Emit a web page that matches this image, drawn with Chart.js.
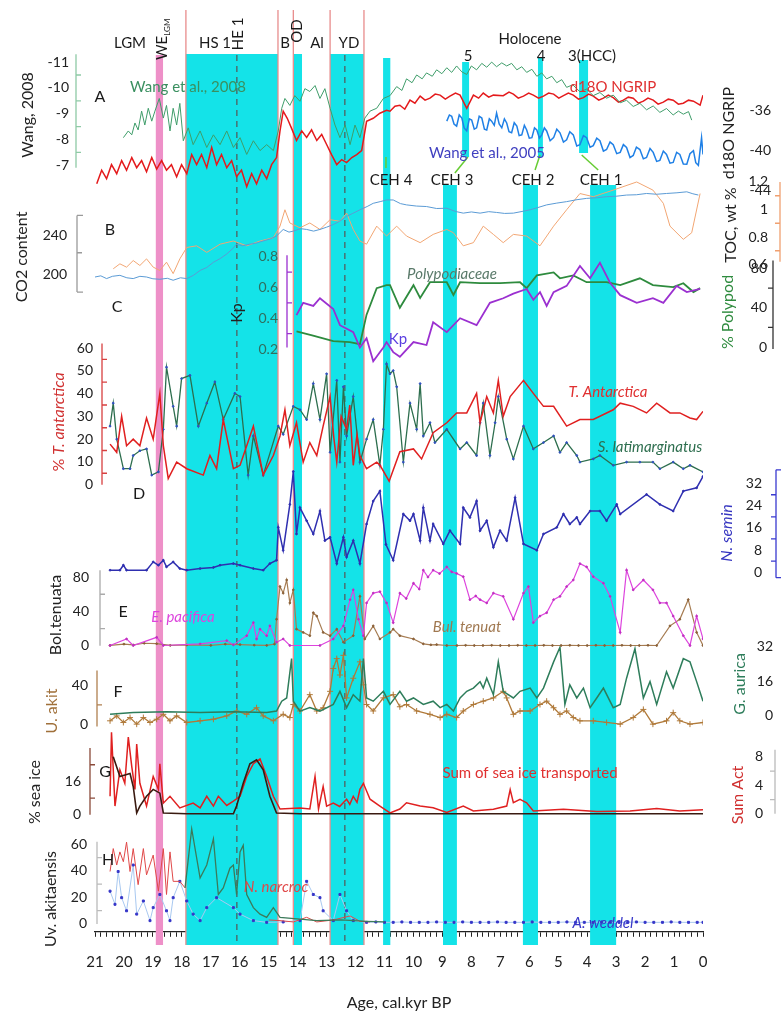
<!DOCTYPE html>
<html>
<head>
<meta charset="utf-8">
<title>Deglacial proxy records, 21-0 kyr BP</title>
<script src="https://cdn.jsdelivr.net/npm/chart.js@4.4.1/dist/chart.umd.min.js"></script>
<style>
  html, body { margin: 0; padding: 0; background: #fff; }
</style>
</head>
<body>
<canvas id="proxyChart" width="782" height="1014"></canvas>
<script>
// ---- records: [age kyr BP, value] ----
const wang2008 = [[20.02,-8.07],[19.85,-8.33],[19.73,-8.18],[19.62,-8.64],[19.51,-8.37],[19.39,-9.10],[19.28,-8.56],[19.16,-9.21],[19.04,-8.71],[18.93,-9.10],[18.78,-9.59],[18.64,-8.83],[18.53,-9.32],[18.41,-8.33],[18.30,-9.21],[18.18,-8.56],[18.07,-9.40],[17.95,-7.95],[17.78,-8.45],[17.61,-7.80],[17.37,-8.33],[17.14,-7.69],[16.91,-8.18],[16.68,-7.80],[16.45,-8.33],[16.22,-7.69],[15.99,-8.07],[15.76,-7.42],[15.53,-7.95],[15.30,-7.57],[15.07,-7.80],[14.84,-7.57],[14.67,-8.33],[14.55,-9.21],[14.44,-9.59],[14.27,-9.32],[14.10,-9.70],[13.92,-9.48],[13.75,-9.97],[13.58,-9.86],[13.40,-10.09],[13.23,-9.59],[13.06,-9.97],[12.88,-9.21],[12.71,-8.56],[12.54,-8.07],[12.36,-8.56],[12.19,-7.80],[12.02,-8.56],[11.85,-8.07],[11.68,-8.83],[11.50,-9.10],[11.27,-9.21],[11.04,-9.59],[10.81,-9.70],[10.58,-10.05],[10.40,-9.90],[10.24,-10.35],[10.05,-10.20],[9.89,-10.50],[9.70,-10.35],[9.55,-10.58],[9.35,-10.45],[9.20,-10.70],[9.02,-10.55],[8.85,-10.78],[8.68,-10.60],[8.51,-10.85],[8.33,-10.62],[8.16,-10.52],[8.00,-10.85],[7.82,-10.70],[7.64,-10.95],[7.47,-10.80],[7.30,-11.00],[7.13,-10.82],[6.95,-10.97],[6.78,-10.85],[6.61,-10.95],[6.43,-10.70],[6.26,-10.82],[6.09,-10.60],[5.91,-10.72],[5.74,-10.45],[5.57,-10.58],[5.40,-10.35],[5.22,-10.45],[5.05,-10.20],[4.88,-10.32],[4.71,-10.02],[4.50,-10.12],[4.25,-9.85],[4.02,-9.95],[3.79,-9.70],[3.56,-9.82],[3.33,-9.60],[3.10,-9.72],[2.86,-9.42],[2.64,-9.52],[2.41,-9.28],[2.18,-9.40],[1.95,-9.15],[1.72,-9.30],[1.49,-9.05],[1.26,-9.20],[1.03,-8.95],[0.85,-9.10],[0.68,-8.98],[0.50,-9.08],[0.39,-8.75]];
const wang2005 = [[8.85,-8.71],[8.76,-8.95],[8.68,-8.90],[8.60,-8.60],[8.51,-8.52],[8.42,-8.95],[8.33,-8.83],[8.25,-8.45],[8.16,-8.33],[8.07,-8.80],[7.99,-8.75],[7.90,-8.40],[7.82,-8.45],[7.73,-8.90],[7.64,-8.83],[7.55,-8.40],[7.47,-8.37],[7.38,-8.80],[7.30,-8.71],[7.21,-8.55],[7.13,-9.02],[7.04,-8.60],[6.95,-8.45],[6.86,-8.80],[6.78,-8.64],[6.70,-8.30],[6.61,-8.26],[6.52,-8.65],[6.43,-8.52],[6.35,-8.15],[6.26,-8.18],[6.17,-8.55],[6.09,-8.37],[6.00,-8.05],[5.91,-8.07],[5.82,-8.45],[5.74,-8.37],[5.65,-8.05],[5.57,-8.18],[5.48,-8.45],[5.40,-8.33],[5.28,-7.95],[5.16,-8.07],[5.05,-8.40],[4.94,-8.26],[4.82,-7.90],[4.71,-7.99],[4.60,-8.30],[4.48,-8.18],[4.36,-7.75],[4.25,-7.80],[4.13,-8.15],[4.02,-8.07],[3.90,-7.70],[3.79,-7.76],[3.67,-8.05],[3.56,-7.95],[3.44,-7.55],[3.33,-7.61],[3.21,-7.90],[3.10,-7.80],[2.98,-7.45],[2.86,-7.50],[2.75,-7.80],[2.64,-7.69],[2.52,-7.30],[2.41,-7.38],[2.30,-7.70],[2.18,-7.61],[2.06,-7.25],[1.95,-7.30],[1.83,-7.65],[1.72,-7.50],[1.60,-7.15],[1.49,-7.19],[1.37,-7.55],[1.26,-7.42],[1.14,-7.08],[1.03,-7.11],[0.91,-7.50],[0.80,-7.42],[0.68,-7.05],[0.56,-7.04],[0.45,-7.45],[0.33,-7.57],[0.25,-7.10],[0.16,-7.00],[0.05,-8.07],[0.00,-7.42]];
const ngrip = [[20.94,-43.3],[20.77,-41.95],[20.60,-42.8],[20.43,-41.4],[20.25,-42.3],[20.08,-41.0],[19.91,-41.95],[19.73,-40.7],[19.56,-41.7],[19.39,-41.0],[19.22,-42.1],[19.04,-40.7],[18.87,-41.85],[18.70,-41.0],[18.53,-41.95],[18.36,-41.4],[18.18,-42.6],[18.01,-41.4],[17.83,-42.3],[17.66,-40.4],[17.49,-41.4],[17.32,-40.4],[17.14,-41.7],[16.97,-39.7],[16.80,-41.4],[16.63,-40.4],[16.45,-41.7],[16.28,-41.0],[16.11,-42.6],[15.94,-41.95],[15.76,-43.6],[15.59,-42.3],[15.42,-43.3],[15.24,-41.95],[15.07,-42.8],[14.90,-41.4],[14.73,-40.7],[14.61,-38.05],[14.50,-36.1],[14.36,-36.8],[14.21,-37.8],[14.04,-39.0],[13.86,-38.05],[13.69,-38.7],[13.52,-37.95],[13.34,-39.0],[13.17,-38.4],[13.00,-39.4],[12.83,-40.4],[12.65,-41.4],[12.48,-40.9],[12.31,-41.2],[12.13,-40.7],[11.96,-40.4],[11.79,-40.0],[11.62,-37.1],[11.39,-36.8],[11.16,-36.3],[10.93,-36.0],[10.81,-36.1],[10.64,-35.6],[10.47,-35.5],[10.30,-35.9],[10.12,-35.0],[9.95,-35.3],[9.77,-34.6],[9.60,-35.0],[9.43,-34.8],[9.25,-34.4],[9.08,-34.5],[8.90,-34.9],[8.74,-34.6],[8.55,-34.3],[8.39,-34.5],[8.16,-35.8],[7.93,-34.5],[7.75,-34.8],[7.59,-34.3],[7.40,-34.7],[7.24,-34.5],[6.90,-34.55],[6.70,-34.2],[6.55,-34.4],[6.38,-34.8],[6.20,-34.6],[6.02,-34.3],[5.86,-34.5],[5.68,-34.8],[5.51,-34.6],[5.33,-34.3],[5.16,-34.4],[4.98,-34.8],[4.82,-34.55],[4.65,-34.3],[4.48,-34.5],[4.30,-34.9],[4.13,-34.75],[3.95,-34.4],[3.79,-34.6],[3.60,-35.0],[3.44,-34.8],[3.27,-34.5],[3.10,-34.75],[2.92,-35.2],[2.75,-35.0],[2.58,-34.7],[2.41,-34.8],[2.23,-35.3],[2.06,-35.1],[1.90,-34.8],[1.72,-35.0],[1.55,-35.4],[1.37,-35.2],[1.20,-34.9],[1.03,-35.0],[0.85,-35.4],[0.68,-35.3],[0.50,-35.0],[0.33,-35.1],[0.10,-35.5],[0.00,-34.5]];
const co2 = [[21.0,197.3],[20.8,198.5],[20.6,195.7],[20.4,198],[20.14,199],[19.9,196.5],[19.68,195.7],[19.45,198],[19.22,197.3],[19.0,195.5],[18.76,195],[18.5,196],[18.30,194],[18.05,196.5],[17.83,195.7],[17.6,199],[17.37,204],[17.14,207],[16.91,212.3],[16.68,216],[16.45,220.7],[16.25,226],[16.11,230.7],[15.9,229],[15.65,230.7],[15.4,232],[15.19,234],[14.95,236],[14.73,239],[14.50,245.7],[14.3,243],[14.15,244],[13.9,246.5],[13.69,245.7],[13.45,244],[13.23,245.7],[13.0,248],[12.77,250.7],[12.55,254],[12.31,259],[12.1,262],[11.85,265.7],[11.6,269],[11.39,272.3],[11.15,274],[10.93,275.7],[10.70,275.7],[10.45,272],[10.24,270.7],[9.9,269.5],[9.55,269],[9.2,267],[8.85,267.3],[8.55,264],[8.28,262.3],[8.0,263.5],[7.70,262.3],[7.4,263.8],[7.13,263],[6.85,262],[6.55,262.3],[6.25,264],[5.97,265.7],[5.7,268],[5.40,270.7],[5.05,272.5],[4.71,274],[4.35,276],[4.02,277.3],[3.65,278],[3.33,279],[3.0,279.5],[2.64,280.7],[2.3,281],[1.95,282.3],[1.6,281.5],[1.26,282.3],[0.9,283],[0.56,284],[0.35,282],[0.16,280.7]];
const toc = [[20.37,0.569],[20.14,0.605],[19.91,0.581],[19.68,0.629],[19.45,0.593],[19.22,0.641],[18.99,0.581],[18.76,0.557],[18.53,0.617],[18.30,0.534],[18.07,0.641],[17.83,0.724],[17.49,0.736],[17.14,0.688],[16.68,0.748],[16.22,0.771],[15.76,0.736],[15.30,0.771],[14.84,0.795],[14.61,0.879],[14.44,0.998],[14.27,0.902],[13.92,0.867],[13.58,0.902],[13.23,0.855],[12.88,0.926],[12.54,0.914],[12.31,0.974],[12.08,0.855],[11.85,0.771],[11.62,0.748],[11.27,0.879],[10.93,0.807],[10.58,0.879],[10.24,0.807],[9.77,0.759],[9.32,0.819],[8.85,0.855],[8.62,0.831],[8.28,0.736],[7.93,0.759],[7.59,0.879],[7.24,0.819],[6.90,0.759],[6.55,0.819],[6.09,0.807],[5.63,0.736],[5.16,0.879],[4.71,0.998],[4.25,1.116],[3.79,1.093],[3.10,1.141],[2.29,1.2],[1.73,1.141],[1.37,1.045],[1.14,0.879],[0.68,0.783],[0.39,0.831],[0.10,1.116]];
const kp = [[14.04,0.42],[13.81,0.50],[13.46,0.48],[13.23,0.53],[12.77,0.46],[12.54,0.355],[12.08,0.31],[11.85,0.21],[11.62,0.27],[11.39,0.12],[11.04,0.21],[10.93,0.245],[10.70,0.18],[10.47,0.15],[10.00,0.245],[9.55,0.226],[9.32,0.374],[8.85,0.31],[8.39,0.40],[7.82,0.355],[7.36,0.50],[6.90,0.53],[6.55,0.56],[6.09,0.59],[5.86,0.52],[5.63,0.57],[5.40,0.48],[5.16,0.57],[4.71,0.61],[4.25,0.74],[3.90,0.66],[3.56,0.76],[3.21,0.63],[2.86,0.55],[2.29,0.50],[1.73,0.53],[1.37,0.50],[0.91,0.61],[0.56,0.57],[0.10,0.59]];
const polypod = [[14.04,16],[13.5,12],[12.77,6],[12.2,5],[11.85,3],[11.62,33],[11.27,60],[10.93,63],[10.81,63],[10.47,40],[10.00,63],[9.77,50],[9.43,66],[8.85,66],[8.62,53],[8.39,66],[7.70,65],[7.01,65],[6.32,66],[6.09,60],[5.74,73],[5.16,76],[4.94,70],[4.48,73],[4.02,66],[3.33,66],[2.86,63],[2.18,70],[1.73,63],[1.03,61],[0.68,65],[0.33,56],[0.10,60]];
const tAntarctica = [[20.48,17.8],[20.25,14.2],[20.08,30.0],[19.91,17.1],[19.68,20.0],[19.45,17.1],[19.22,29.3],[18.99,20.0],[18.76,40.1],[18.64,17.1],[18.47,2.7],[18.18,9.9],[17.83,7.0],[17.26,4.2],[17.03,12.8],[16.80,7.0],[16.57,28.6],[16.22,7.0],[15.99,8.5],[15.76,17.1],[15.53,25.7],[15.19,4.2],[14.84,12.8],[14.61,21.4],[14.44,32.9],[14.27,17.1],[14.04,27.2],[13.81,9.9],[13.58,18.5],[13.34,12.8],[13.12,25.7],[12.88,38.7],[12.75,20.5],[12.65,9.9],[12.50,30.0],[12.31,24.3],[12.20,35.0],[12.08,8.5],[11.95,22.0],[11.85,12.8],[11.62,7.0],[11.27,9.9],[11.16,8.6],[10.84,1.5],[10.47,14.5],[10.00,15.7],[9.72,11.3],[9.32,22.8],[8.85,27.2],[8.51,31.5],[8.16,31.5],[7.82,40.1],[7.70,27.2],[7.47,38.7],[7.24,31.5],[7.07,45.8],[6.90,30.0],[6.66,38.7],[6.20,45.8],[5.86,40.1],[5.51,34.4],[5.16,34.4],[4.71,25.7],[4.25,28.6],[3.79,28.6],[3.10,32.9],[2.86,35.8],[2.41,34.4],[1.95,31.5],[1.60,35.8],[1.14,31.5],[0.80,31.5],[0.45,29.3],[0.22,28.6],[0.00,32.2]];
const sLatimarginatus = [[20.48,25.7],[20.37,35.8],[20.25,20.0],[20.02,7.0],[19.79,7.0],[19.68,12.8],[19.45,14.9],[19.22,15.7],[19.04,4.2],[18.81,5.6],[18.64,24.3],[18.53,51.6],[18.30,34.4],[18.18,25.7],[18.01,46.6],[17.72,48.0],[17.43,25.7],[17.14,35.8],[16.86,45.1],[16.57,28.6],[16.17,40.1],[15.99,38.7],[15.71,4.2],[15.53,21.4],[15.19,4.2],[14.67,25.7],[14.50,22.1],[14.15,34.4],[13.92,32.9],[13.69,28.6],[13.46,44.4],[13.23,28.6],[13.00,48.7],[12.88,14.2],[12.65,45.8],[12.54,9.9],[12.42,43.0],[12.31,21.4],[12.08,38.7],[11.85,9.9],[11.62,20.0],[11.39,28.6],[11.16,8.5],[11.04,24.3],[10.93,53.0],[10.81,48.7],[10.70,50.1],[10.58,43.0],[10.35,9.9],[10.12,35.8],[9.89,24.3],[9.77,44.4],[9.66,21.4],[9.43,27.2],[9.26,18.5],[8.85,24.3],[8.39,15.7],[8.16,18.5],[7.82,12.8],[7.70,27.2],[7.59,35.8],[7.36,12.8],[7.18,27.2],[7.07,38.7],[6.78,20.0],[6.55,11.3],[6.20,25.7],[5.86,15.7],[5.51,18.5],[5.16,21.4],[4.94,14.2],[4.71,18.5],[4.36,12.8],[4.25,9.9],[3.79,11.3],[3.56,12.8],[3.10,8.5],[2.64,9.9],[2.18,9.9],[1.73,9.9],[1.49,7.0],[1.03,9.9],[0.68,7.0],[0.45,8.5],[0.00,5.6]];
const nSemin = [[20.48,0.7],[20.14,0.7],[20.02,2.5],[19.91,0.7],[19.22,0.7],[18.99,3.7],[18.81,2.5],[18.64,4.3],[18.53,1.9],[18.30,3.7],[18.07,1.3],[17.83,0.7],[17.37,1.3],[16.91,1.7],[16.68,2.5],[16.22,3.1],[15.99,2.5],[15.53,1.3],[15.19,0.7],[14.96,3.1],[14.73,4.3],[14.67,16.2],[14.50,7.9],[14.27,24.5],[14.15,36.4],[14.04,13.8],[13.92,23.3],[13.69,18.6],[13.46,13.8],[13.23,22.1],[13.06,11.4],[12.88,12.6],[12.65,3.1],[12.42,12.6],[12.31,5.5],[12.08,11.4],[11.85,3.1],[11.62,17.4],[11.39,25.7],[11.16,29.3],[10.95,10.0],[10.70,4.3],[10.35,21.0],[10.12,18.6],[10.00,21.0],[9.77,11.4],[9.66,23.3],[9.43,11.4],[9.32,17.4],[8.97,10.2],[8.74,15.0],[8.39,10.2],[8.28,23.3],[8.05,19.8],[7.82,25.7],[7.70,15.0],[7.47,18.6],[7.24,9.0],[7.01,15.0],[6.78,11.4],[6.49,26.9],[6.20,10.2],[5.74,7.9],[5.51,13.8],[5.05,16.2],[4.82,21.0],[4.60,17.4],[4.36,19.8],[4.25,17.4],[3.90,22.1],[3.56,22.1],[3.33,18.6],[2.98,24.5],[2.86,21.0],[1.95,28.1],[1.49,24.5],[1.03,22.1],[0.68,29.3],[0.22,30.5],[0.00,34.6]];
const ePacifica = [[20.48,0.4],[19.91,8.0],[19.68,0.4],[18.87,9.9],[18.64,0.4],[17.37,2.3],[16.45,6.1],[16.22,1.1],[15.76,11.8],[15.53,27.0],[15.42,8.0],[15.30,19.4],[15.07,11.8],[14.96,23.2],[14.73,4.2],[14.50,8.0],[14.27,0.4],[13.23,0.4],[12.77,8.0],[12.42,23.2],[12.19,53.7],[12.08,65.1],[11.90,30.9],[11.73,11.8],[11.62,49.9],[11.39,61.3],[11.16,63.0],[10.93,49.9],[10.70,27.0],[10.47,61.3],[10.25,55.0],[10.00,72.8],[9.80,66.0],[9.66,88.0],[9.50,80.0],[9.32,88.0],[9.10,84.0],[8.85,91.8],[8.68,86.0],[8.51,84.2],[8.28,80.4],[8.05,53.7],[7.85,58.0],[7.70,53.7],[7.47,49.9],[7.24,61.3],[6.90,57.5],[6.55,30.9],[6.20,61.3],[6.03,68.9],[5.86,27.0],[5.63,34.6],[5.40,38.5],[5.16,53.7],[4.94,57.5],[4.71,68.9],[4.48,76.6],[4.25,95.6],[4.02,91.8],[3.79,80.4],[3.44,72.8],[3.21,57.5],[2.86,15.6],[2.64,88.0],[2.41,65.1],[2.06,76.6],[1.73,65.1],[1.49,49.9],[1.26,49.9],[1.03,34.6],[0.68,11.8],[0.45,0.4],[0.22,34.6],[0.00,8.0]];
const bulTenuata = [[20.48,0.5],[20.0,2.0],[19.68,1.0],[19.3,3.0],[18.87,2.5],[18.4,0.5],[17.83,1.0],[17.0,0.5],[16.5,2.0],[15.99,1.5],[15.5,0.8],[15.07,0.5],[14.80,2.0],[14.73,30.9],[14.61,68.9],[14.50,61.3],[14.38,76.6],[14.27,49.9],[14.15,65.1],[14.04,19.4],[13.81,15.6],[13.58,11.8],[13.46,38.5],[13.34,34.6],[13.12,15.6],[12.88,11.8],[12.65,19.4],[12.42,4.2],[12.08,11.8],[11.85,57.5],[11.68,8.0],[11.39,23.2],[11.16,8.0],[10.81,15.6],[10.70,19.4],[10.47,11.8],[10.00,8.0],[9.66,2.3],[9.4,1.2],[9.2,1.5],[8.85,0.4],[8.5,0.4],[8.2,0.6],[7.9,0.4],[7.6,0.4],[7.3,0.6],[7.0,0.4],[6.7,0.4],[6.4,0.6],[6.1,0.4],[5.8,0.4],[5.5,0.6],[5.2,0.4],[4.9,0.4],[4.6,0.6],[4.3,0.4],[4.0,0.4],[3.7,0.6],[3.4,0.4],[3.1,0.4],[2.8,0.6],[2.5,0.4],[2.2,0.4],[1.9,0.6],[1.60,0.4],[1.14,23.2],[0.80,30.9],[0.51,53.7],[0.22,15.6],[0.00,0.4]];
const gAurica = [[20.48,0.6],[19.68,1.4],[18.53,1.8],[17.37,1.4],[16.22,1.8],[15.07,1.4],[14.73,2.1],[14.55,6.7],[14.38,8.2],[14.21,26.5],[14.15,6.7],[13.92,2.1],[13.58,3.7],[13.23,2.1],[12.77,5.2],[12.54,11.3],[12.31,3.7],[12.08,9.7],[11.85,6.7],[11.73,26.5],[11.62,8.2],[11.39,6.7],[11.04,11.3],[10.81,5.2],[10.47,11.3],[10.24,6.7],[10.00,8.2],[9.66,5.2],[9.32,6.7],[9.08,3.7],[8.85,5.2],[8.62,2.1],[8.39,8.2],[8.16,11.3],[7.93,12.8],[7.70,15.8],[7.59,12.8],[7.47,17.4],[7.24,9.7],[7.07,25.0],[6.90,11.3],[6.55,8.2],[6.32,11.3],[5.97,12.8],[5.74,8.2],[5.51,12.8],[5.16,25.0],[4.94,31.8],[4.77,5.2],[4.60,14.3],[4.36,8.2],[4.13,12.8],[3.90,3.7],[3.67,8.2],[3.44,12.8],[3.10,3.7],[2.86,5.2],[2.64,17.4],[2.35,31.1],[2.06,8.2],[1.83,15.8],[1.60,5.2],[1.26,20.4],[1.03,12.8],[0.68,26.5],[0.45,25.0],[0.22,15.8],[0.00,6.7]];
const uAkit = [[20.48,3.7],[20.25,8.7],[20.02,2.0],[19.79,7.0],[19.56,0.3],[19.33,7.0],[19.10,2.0],[18.87,5.3],[18.64,10.3],[18.41,3.7],[18.18,8.7],[17.83,2.0],[17.37,3.7],[16.91,5.3],[16.45,8.7],[16.11,13.7],[15.76,10.3],[15.42,17.0],[15.19,8.7],[14.84,3.7],[14.50,10.3],[14.27,7.0],[14.15,20.3],[13.92,13.7],[13.58,30.3],[13.34,13.7],[13.12,17.0],[12.88,33.7],[12.77,57.0],[12.65,67.0],[12.54,50.3],[12.42,70.3],[12.31,27.0],[12.08,47.0],[11.85,63.7],[11.73,40.3],[11.62,20.3],[11.39,13.7],[11.04,27.0],[10.70,30.3],[10.47,18.0],[10.24,20.3],[9.89,13.7],[9.43,10.3],[9.08,7.0],[8.85,10.3],[8.51,7.0],[8.28,13.7],[7.93,20.3],[7.59,23.7],[7.24,27.0],[6.90,33.7],[6.78,27.0],[6.55,10.3],[6.32,13.7],[5.97,13.7],[5.63,20.3],[5.40,23.7],[5.16,17.0],[4.94,10.3],[4.71,13.7],[4.48,7.0],[4.25,3.7],[3.79,3.7],[3.33,2.0],[2.86,0.3],[2.41,7.0],[2.06,15.3],[1.73,0.3],[1.26,3.7],[1.03,12.0],[0.80,3.7],[0.45,0.3],[0.00,2.0]];
const seaIceSum = [[20.48,8.9],[20.43,39.5],[20.31,4.2],[20.14,21.6],[19.97,15.1],[19.85,37.2],[19.73,23.1],[19.62,12.2],[19.56,33.9],[19.45,15.1],[19.22,4.2],[18.99,18.4],[18.81,12.2],[18.76,24.5],[18.64,5.6],[18.41,8.9],[18.07,3.3],[17.61,5.6],[17.37,3.3],[17.14,8.9],[16.91,4.2],[16.74,8.9],[16.45,4.5],[16.22,6.6],[15.99,8.9],[15.76,18.4],[15.53,24.5],[15.30,26.8],[15.07,18.4],[14.84,8.9],[14.61,2.8],[13.92,3.3],[13.58,2.8],[13.40,18.4],[13.28,2.8],[13.12,13.6],[13.00,4.2],[12.77,5.6],[12.55,4.0],[12.31,7.5],[12.20,5.0],[12.08,8.9],[11.95,6.0],[11.85,12.2],[11.73,15.1],[11.50,7.5],[11.16,4.2],[10.81,0.9],[10.47,2.8],[10.24,5.8],[9.77,4.2],[9.32,3.4],[8.85,1.1],[8.28,4.2],[7.93,1.9],[7.24,2.7],[6.78,4.2],[6.66,12.1],[6.55,5.8],[6.32,7.4],[6.09,5.8],[5.86,1.9],[4.82,2.7],[3.67,1.6],[2.52,1.9],[1.60,3.0],[0.80,1.9],[0.00,2.5]];
const seaIceTotal = [[20.37,27.8],[20.14,18.4],[19.79,19.8],[19.68,13.6],[19.56,0.9],[19.45,4.2],[19.22,8.9],[18.99,12.2],[18.76,10.4],[18.64,0.9],[17.83,0.5],[16.22,0.5],[16.11,4.2],[15.88,15.1],[15.65,24.5],[15.42,26.4],[15.19,21.6],[14.96,8.9],[14.73,0.9],[13.92,0.5],[11.0,0.5],[8.0,0.5],[5.0,0.5],[2.0,0.5],[0.00,0.5]];
const nNarcroc = [[20.48,39.5],[20.37,56.8],[20.25,44.4],[20.14,54.3],[20.02,46.9],[19.91,61.7],[19.79,39.5],[19.68,56.8],[19.51,29.6],[19.33,56.8],[19.22,37.0],[18.99,51.9],[18.81,24.7],[18.64,56.8],[18.53,22.2],[18.41,54.3],[18.30,32.1],[18.07,32.1],[17.89,27.2],[17.0,null],[15.0,3.0],[14.61,2.5],[14.15,1.5],[13.69,5.0],[13.34,1.5],[12.77,3.0],[12.19,6.0],[11.85,2.0],[11.5,1.5]];
const uvAkitaensis = [[17.89,27.2],[17.66,71.6],[17.37,34.6],[17.14,44.4],[16.91,64.2],[16.74,22.2],[16.57,27.2],[16.34,42.0],[16.22,44.4],[16.11,22.2],[15.99,54.3],[15.88,59.3],[15.76,22.2],[15.53,12.3],[15.30,7.4],[15.07,4.9],[14.84,12.3],[14.61,4.9],[13.92,3.7],[13.34,2.5],[12.5,3.0],[11.62,2.0],[11.0,1.5]];
const aWeddel = [[20.48,24.7],[20.31,14.8],[20.20,39.5],[20.08,19.8],[19.91,9.9],[19.68,44.4],[19.56,7.4],[19.33,17.3],[19.10,2.5],[18.99,12.3],[18.76,22.2],[18.53,9.9],[18.41,2.5],[18.30,19.8],[18.07,32.1],[17.83,17.3],[17.61,7.4],[17.37,2.5],[17.14,12.3],[16.80,19.8],[16.22,12.3],[15.99,7.4],[15.53,2.5],[15.07,1.2],[14.5,1.5],[13.92,2.5],[13.69,32.1],[13.46,22.2],[13.23,19.8],[13.12,9.9],[12.77,2.5],[12.54,22.2],[12.31,9.9],[12.08,2.5],[11.62,1.2],[11.3,1.5],[11.0,1.2],[10.7,1.2],[10.4,1.5],[10.1,1.2],[9.8,1.2],[9.5,1.2],[9.2,1.5],[8.9,1.2],[8.6,1.2],[8.3,1.5],[8.0,1.2],[7.7,1.2],[7.4,1.2],[7.1,1.5],[6.8,1.2],[6.5,1.2],[6.2,1.2],[5.9,1.5],[5.6,1.2],[5.3,1.2],[5.0,1.2],[4.7,1.5],[4.4,1.2],[4.1,1.2],[3.8,1.2],[3.5,1.5],[3.2,1.2],[2.9,1.2],[2.6,1.2],[2.3,1.5],[2.0,1.2],[1.7,1.2],[1.4,1.2],[1.1,1.5],[0.8,1.2],[0.5,1.2],[0.2,1.2],[0.0,1.2]];

// ---- climate events, kyr BP ----
const fullEvents = [[17.86,14.68],[14.13,13.85],[12.88,11.71],[11.05,10.80]]; // HS1, OD, YD, CEH 4
const holoceneEvents = [[8.32,8.08],[5.70,5.53],[4.28,3.97]];                 // 5, 4, 3(HCC)
const cehEvents = [[8.98,8.50],[6.22,5.70],[3.90,3.00]];                      // CEH 3, 2, 1
const weEvent = [18.90,18.65];
const boundaryAges = [17.86,14.68,14.15,12.88,11.71];
const dashedAges = [16.1,12.37];   // HE 1, YD midpoint

// ---- tick labels ----
const wangTicks = [-11,-10,-9,-8,-7];
const ngripTicks = [-36,-40,-44];
const co2Ticks = [240,200];
const tocTicks = [1.2,1,0.8,0.6];
const kpTicks = [0.8,0.6,0.4,0.2];
const polypodTicks = [80,40,0];
const tantTicks = [60,50,40,30,20,10,0];
const seminTicks = [32,24,16,8,0];
const bolTicks = [80,40,0];
const uakitTicks = [40,0];
const gauricaTicks = [32,16,0];
const seaIceTicks = [16,0];
const sumActTicks = [8,4,0];
const uvakTicks = [60,40,20,0];

// ---- layout ----
const FONT = 'Lato, "Liberation Sans", sans-serif';
const PLOT_TOP = 10, PLOT_BOTTOM = 948;

// each record sits in its own band of the tall plot: pin two values to two pixel rows
function placeScale(v1, p1, v2, p2) {
  const k = (p2 - p1) / (v2 - v1);
  const top = v1 + (PLOT_TOP - p1) / k;
  const bottom = v1 + (PLOT_BOTTOM - p1) / k;
  return top > bottom ? {min: bottom, max: top} : {min: top, max: bottom, reverse: true};
}

const yPlacement = {
  yWang: placeScale(-11, 63, -7, 168),
  yNgrip: placeScale(-36, 112, -40, 153),
  yCo2: placeScale(240, 239, 200, 279),
  yToc: placeScale(1.2, 185, 0.6, 269),
  yKp: placeScale(0.8, 261, 0.2, 355),
  yPoly: placeScale(80, 273, 0, 353),
  yTant: placeScale(60, 354, 0, 493),
  ySemin: placeScale(32, 492, 0, 582),
  yBol: placeScale(80, 587, 0, 657),
  yUak: placeScale(40, 697, 0, 737),
  yGaur: placeScale(32, 658, 0, 728),
  yIce: placeScale(16, 795, 0, 829),
  ySum: placeScale(8, 770, 0, 828),
  yUvak: placeScale(60, 859, 0, 940)
};

const series = [
  {data: wang2008, axis: 'yWang', color: '#3f9d6a', width: 1},
  {data: ngrip, axis: 'yNgrip', color: '#e41a1c', width: 1.5},
  {data: wang2005, axis: 'yWang', color: '#1f80e6', width: 1.5},
  {data: co2, axis: 'yCo2', color: '#5b9bd5', width: 1},
  {data: toc, axis: 'yToc', color: '#f2a673', width: 1},
  {data: kp, axis: 'yKp', color: '#9b30d0', width: 1.8},
  {data: polypod, axis: 'yPoly', color: '#2e8b3e', width: 1.8},
  {data: tAntarctica, axis: 'yTant', color: '#e02020', width: 1.5},
  {data: sLatimarginatus, axis: 'yTant', color: '#2d6e4e', width: 1.3, point: 'circle', pointColor: '#3050c0', radius: 0.9},
  {data: nSemin, axis: 'ySemin', color: '#2f2fb0', width: 1.5, point: 'circle', pointColor: '#2f2fb0', radius: 0.9},
  {data: ePacifica, axis: 'yBol', color: '#dd44dd', width: 1.2, point: 'circle', pointColor: '#c030c0', radius: 0.9},
  {data: bulTenuata, axis: 'yBol', color: '#a67c52', width: 1.2, point: 'circle', pointColor: '#8a6038', radius: 0.9},
  {data: gAurica, axis: 'yGaur', color: '#2e7d5b', width: 1.5},
  {data: uAkit, axis: 'yUak', color: '#b07a3a', width: 1.3, point: 'cross', pointColor: '#b07a3a', radius: 3},
  {data: seaIceTotal, axis: 'yIce', color: '#3a1a10', width: 1.6},
  {data: seaIceSum, axis: 'yIce', color: '#e02020', width: 1.5},
  {data: uvAkitaensis, axis: 'yUvak', color: '#3c7a5a', width: 1.3},
  {data: nNarcroc, axis: 'yUvak', color: '#e04848', width: 1},
  {data: aWeddel, axis: 'yUvak', color: '#a8c8f0', width: 1, point: 'rect', pointColor: '#3535c8', radius: 1.4}
];

// spines, tick marks, tick labels and titles for the stacked y axes
const axisMarks = [
  {scale: 'yWang', spineX: 76, span: [-11.3, -6.9], marks: [-10.5, -9.5, -8.5, -7.5], dir: 1, color: '#8fcaa6', labels: wangTicks, labelX: 69, title: [['Wang, 2008']], titleX: 28, titleY: 115},
  {scale: 'yNgrip', labels: ngripTicks, labelX: 771, title: [['d18O NGRIP']], titleX: 729, titleY: 133},
  {scale: 'yCo2', spineX: 77, span: [182, 260], marks: [222], caps: 6, dir: 1, color: '#9a9a9a', labels: co2Ticks, labelX: 67, title: [['CO2 content']], titleX: 22, titleY: 257},
  {scale: 'yToc', spineX: 780, span: [0.62, 1.2], marks: [1.1, 0.9, 0.7], dir: -1, color: '#f0a070', labels: tocTicks, labelX: 768, title: [['TOC, wt %']], titleX: 731, titleY: 225},
  {scale: 'yKp', spineX: 287, span: [0.21, 0.81], marks: [0.7, 0.5, 0.3], dir: 1, color: '#9b30d0', labels: kpTicks, labelX: 278, labelColor: '#2f6f5f', title: [['Kp']], titleX: 237, titleY: 313},
  {scale: 'yPoly', spineX: 773, span: [-2, 88], marks: [60, 20], dir: -1, color: '#333333', labels: polypodTicks, labelX: 767, title: [['% Polypod']], titleX: 728, titleY: 312, titleColor: '#2e8b3e'},
  {scale: 'yTant', spineX: 102, span: [0, 62], marks: [5, 15, 25, 35, 45, 55], dir: 1, color: '#d84040', labels: tantTicks, labelX: 93, title: [['% '], ['T. antarctica', true]], titleX: 59, titleY: 422, titleColor: '#d03030'},
  {scale: 'ySemin', spineX: 776, span: [-2, 37], marks: [28, 20, 12, 4], caps: 5, dir: -1, color: '#3a3ad0', labels: seminTicks, labelX: 762, title: [['N. semin', true]], titleX: 727, titleY: 533, titleColor: '#3535c0'},
  {scale: 'yBol', spineX: 100, span: [0, 88], marks: [60, 20], dir: 1, color: '#aaaaaa', labels: bolTicks, labelX: 89, title: [['Bol.tenuata']], titleX: 56, titleY: 615},
  {scale: 'yUak', spineX: 97, span: [-2, 55], marks: [20], dir: 1, color: '#b08050', labels: uakitTicks, labelX: 88, title: [['U. akit']], titleX: 52, titleY: 711, titleColor: '#a0703a'},
  {scale: 'yGaur', labels: gauricaTicks, labelX: 773, title: [['G. aurica']], titleX: 740, titleY: 684, titleColor: '#2e7d5b'},
  {scale: 'yIce', spineX: 90, span: [0, 32], marks: [24, 8], dir: 1, color: '#8a4a3a', labels: seaIceTicks, labelX: 81, title: [['% sea ice']], titleX: 35, titleY: 792},
  {scale: 'ySum', spineX: 775, span: [0, 9], marks: [6, 2], dir: -1, color: '#bbbbbb', labels: sumActTicks, labelX: 763, title: [['Sum Act']], titleX: 738, titleY: 795, titleColor: '#d03030'},
  {scale: 'yUvak', spineX: 97, span: [0, 62], marks: [50, 30, 10], dir: 1, color: '#bbbbbb', labels: uvakTicks, labelX: 87, title: [['Uv. akitaensis']], titleX: 51, titleY: 899}
];

const notes = [
  {t: [['LGM']], x: 130, y: 43}, {t: [['HS 1']], x: 215, y: 43}, {t: [['B']], x: 285, y: 43},
  {t: [['Al']], x: 317, y: 43}, {t: [['YD']], x: 349, y: 43}, {t: [['Holocene']], x: 530, y: 39},
  {t: [['5']], x: 468, y: 56}, {t: [['4']], x: 541, y: 56}, {t: [['3(HCC)']], x: 592, y: 56},
  {t: [['HE 1']], x: 238, y: 34, vertical: true}, {t: [['OD']], x: 297, y: 31, vertical: true},
  {t: [['CEH 4']], x: 391, y: 180}, {t: [['CEH 3']], x: 452, y: 180}, {t: [['CEH 2']], x: 533, y: 180}, {t: [['CEH 1']], x: 601, y: 180},
  {t: [['A']], x: 100, y: 97, size: 16}, {t: [['B']], x: 110, y: 230, size: 16}, {t: [['C']], x: 117, y: 307, size: 16},
  {t: [['D']], x: 139, y: 494, size: 16}, {t: [['E']], x: 123, y: 612, size: 16}, {t: [['F']], x: 118, y: 692, size: 16},
  {t: [['G']], x: 105, y: 772, size: 16}, {t: [['H']], x: 108, y: 860, size: 16},
  {t: [['Wang et al., 2008']], x: 188, y: 87, color: '#3a9060'},
  {t: [['d18O NGRIP']], x: 613, y: 87, color: '#e03030'},
  {t: [['Wang et al., 2005']], x: 487, y: 153, color: '#4040c0'},
  {t: [['Polypodiaceae', true]], x: 452, y: 274, color: '#5a7a6a'},
  {t: [['Kp']], x: 398, y: 339, color: '#5a3ee0'},
  {t: [['T. Antarctica', true]], x: 608, y: 392, color: '#e03030'},
  {t: [['S. latimarginatus', true]], x: 650, y: 447, color: '#2d6e4e'},
  {t: [['E. pacifica', true]], x: 183, y: 617, color: '#dd44dd'},
  {t: [['Bul. tenuat', true]], x: 467, y: 627, color: '#a07850'},
  {t: [['Sum of sea ice transported']], x: 530, y: 773, color: '#e03030'},
  {t: [['N. narcroc', true]], x: 276, y: 887, color: '#e04848'},
  {t: [['A. weddel', true]], x: 603, y: 923, color: '#3838c8'}
];

function drawRuns(ctx, runs, x, y, size, color, vertical) {
  ctx.save();
  ctx.translate(x, y);
  if (vertical) ctx.rotate(-Math.PI / 2);
  ctx.fillStyle = color;
  ctx.textBaseline = 'middle';
  ctx.textAlign = 'left';
  const fontOf = it => `${it ? 'italic ' : ''}${size}px ${FONT}`;
  let total = 0;
  runs.forEach(([t, it]) => { ctx.font = fontOf(it); total += ctx.measureText(t).width; });
  let cx = -total / 2;
  runs.forEach(([t, it]) => { ctx.font = fontOf(it); ctx.fillText(t, cx, 0); cx += ctx.measureText(t).width; });
  ctx.restore();
}

const decor = {
  id: 'decor',
  beforeDatasetsDraw(chart) {
    const {ctx, scales: {x}} = chart;
    const px = a => x.getPixelForValue(a);
    const band = ([a, b], top, bottom, color) => {
      ctx.fillStyle = color;
      ctx.fillRect(px(a), top, px(b) - px(a), bottom - top);
    };
    ctx.save();
    band(weEvent, 55, 945, '#ee90c8');
    fullEvents.forEach((e, i) => band(e, i === 3 ? 58 : 54, 945, '#14e3e8'));
    holoceneEvents.forEach((e, i) => band(e, [62, 58, 60][i], [157, 157, 153][i], '#14e3e8'));
    cehEvents.forEach(e => band(e, 185, 945, '#14e3e8'));

    ctx.strokeStyle = '#e88c8c';
    ctx.lineWidth = 1.3;
    boundaryAges.forEach(a => {
      ctx.beginPath(); ctx.moveTo(px(a), PLOT_TOP); ctx.lineTo(px(a), 945); ctx.stroke();
    });
    ctx.strokeStyle = '#555';
    ctx.lineWidth = 1.2;
    ctx.setLineDash([6, 5]);
    dashedAges.forEach(a => {
      ctx.beginPath(); ctx.moveTo(px(a), 55); ctx.lineTo(px(a), 945); ctx.stroke();
    });
    ctx.setLineDash([]);

    // links from the Holocene events to the CEH intervals
    ctx.strokeStyle = '#66cc33';
    ctx.lineWidth = 1.5;
    [[10.95, 157, 10.95, 168], [8.12, 157, 8.57, 173], [5.63, 155, 5.80, 170], [4.19, 155, 3.62, 170]].forEach(([a1, y1, a2, y2]) => {
      ctx.beginPath(); ctx.moveTo(px(a1), y1); ctx.lineTo(px(a2), y2); ctx.stroke();
    });
    ctx.restore();
  },
  afterDatasetsDraw(chart) {
    const {ctx, scales} = chart;
    const x = scales.x;

    axisMarks.forEach(a => {
      const s = scales[a.scale];
      const py = v => s.getPixelForValue(v);
      ctx.save();
      if (a.spineX != null) {
        ctx.strokeStyle = a.color;
        ctx.lineWidth = 1.3;
        ctx.beginPath();
        ctx.moveTo(a.spineX, py(a.span[0]));
        ctx.lineTo(a.spineX, py(a.span[1]));
        a.marks.forEach(v => { ctx.moveTo(a.spineX, py(v)); ctx.lineTo(a.spineX + 5 * a.dir, py(v)); });
        if (a.caps) a.span.forEach(v => { ctx.moveTo(a.spineX, py(v)); ctx.lineTo(a.spineX + a.caps, py(v)); });
        ctx.stroke();
      }
      ctx.fillStyle = a.labelColor || '#222';
      ctx.font = `14px ${FONT}`;
      ctx.textAlign = 'right';
      ctx.textBaseline = 'middle';
      a.labels.forEach(v => ctx.fillText(String(v), a.labelX, py(v)));
      ctx.restore();
      drawRuns(ctx, a.title, a.titleX, a.titleY, 16, a.titleColor || '#222', true);
    });

    notes.forEach(n => drawRuns(ctx, n.t, n.x, n.y, n.size || 15, n.color || '#1a1a1a', n.vertical));

    // WE with LGM subscript, written upwards
    ctx.save();
    ctx.translate(162, 60);
    ctx.rotate(-Math.PI / 2);
    ctx.fillStyle = '#1a1a1a';
    ctx.textAlign = 'left';
    ctx.textBaseline = 'middle';
    ctx.font = `15px ${FONT}`;
    ctx.fillText('WE', 0, 0);
    const w = ctx.measureText('WE').width;
    ctx.font = `8px ${FONT}`;
    ctx.fillText('LGM', w, 5);
    ctx.restore();

    // whole-kyr ticks run longer than the 0.2 kyr ones
    ctx.save();
    ctx.strokeStyle = '#222';
    ctx.lineWidth = 1.3;
    ctx.beginPath();
    for (let a = 0; a <= 21; a++) {
      ctx.moveTo(x.getPixelForValue(a), x.bottom);
      ctx.lineTo(x.getPixelForValue(a), x.bottom + 9);
    }
    ctx.stroke();
    ctx.restore();
  }
};

const datasets = series.map(s => ({
  data: s.data.map(([x, y]) => ({x, y})),
  yAxisID: s.axis,
  borderColor: s.color,
  borderWidth: s.width,
  pointRadius: s.radius || 0,
  pointStyle: s.point || 'circle',
  pointBackgroundColor: s.pointColor || s.color,
  pointBorderColor: s.pointColor || s.color,
  pointBorderWidth: 1,
  tension: 0,
  spanGaps: false,
  fill: false
}));

const yScales = {};
Object.entries(yPlacement).forEach(([id, r]) => {
  yScales[id] = {type: 'linear', display: false, bounds: 'data', ...r};
});

new Chart(document.getElementById('proxyChart'), {
  type: 'line',
  data: {datasets},
  options: {
    responsive: false,
    animation: false,
    events: [],
    layout: {padding: {left: 95, right: 79, top: PLOT_TOP, bottom: 0}},
    plugins: {legend: {display: false}, tooltip: {enabled: false}},
    scales: {
      x: {
        type: 'linear',
        reverse: true,
        min: 0,
        max: 21,
        border: {display: true, color: '#222', width: 1.3},
        grid: {display: true, drawOnChartArea: false, tickLength: 5, tickColor: '#222', tickWidth: 1},
        ticks: {
          stepSize: 0.2,
          autoSkip: false,
          maxRotation: 0,
          padding: 16,
          color: '#222',
          font: {family: FONT, size: 15},
          callback: v => Math.abs(v - Math.round(v)) < 1e-6 ? String(Math.round(v)) : ''
        },
        title: {display: true, text: 'Age, cal.kyr BP', color: '#222', font: {family: FONT, size: 16}, padding: {top: 6, bottom: 2}}
      },
      ...yScales
    }
  },
  plugins: [decor]
});
</script>
</body>
</html>
